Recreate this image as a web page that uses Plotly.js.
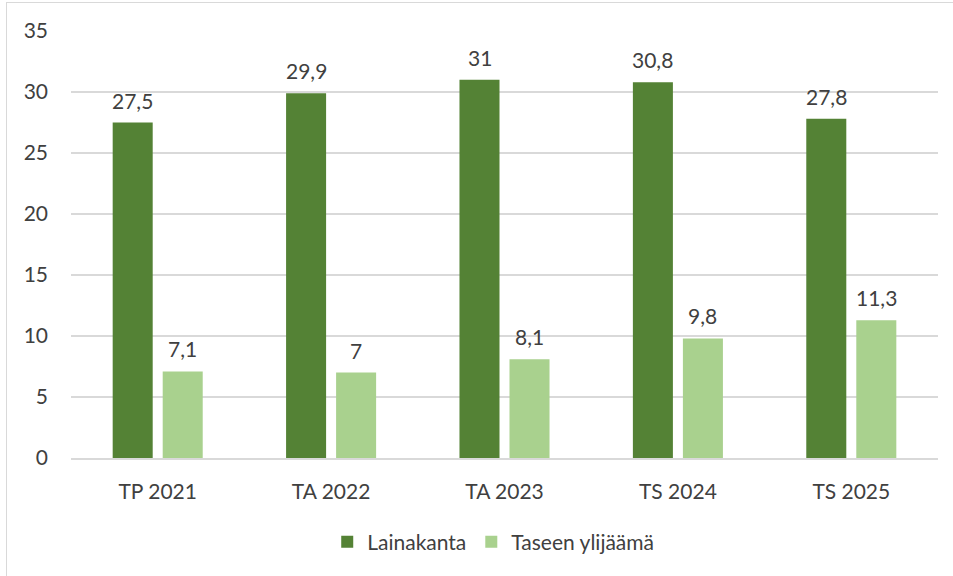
<!DOCTYPE html>
<html>
<head>
<meta charset="utf-8">
<script src="https://cdn.plot.ly/plotly-3.0.1.min.js"></script>
<style>
html,body{margin:0;padding:0;background:#fff;}
#frame{position:absolute;left:6px;top:2px;width:960px;height:600px;border-left:1.5px solid #d9d9d9;border-top:1.5px solid #d9d9d9;pointer-events:none;}
#chart{width:953px;height:576px;}
</style>
</head>
<body>
<div id="chart"></div>
<div id="frame"></div>
<script>
const categories = ["TP 2021", "TA 2022", "TA 2023", "TS 2024", "TS 2025"];
const lainakanta = [27.5, 29.9, 31, 30.8, 27.8];
const taseenYlijaama = [7.1, 7, 8.1, 9.8, 11.3];
const seriesNames = ["Lainakanta", "Taseen ylijäämä"];

const fmt = v => String(v).replace('.', ',');
const font = "Lato";
const txtColor = "#404040";
const fs = 21;

const traces = [
  {type:'bar', name:seriesNames[0], x:categories, y:lainakanta, marker:{color:'#548235'}, hoverinfo:'none'},
  {type:'bar', name:seriesNames[1], x:categories, y:taseenYlijaama, marker:{color:'#A9D18E'}, hoverinfo:'none'}
];

const off = 0.1442;
const annotations = [];
[lainakanta, taseenYlijaama].forEach((arr, s) => {
  arr.forEach((v, i) => {
    annotations.push({x: i + (s === 0 ? -off : off), y: v, xref:'x', yref:'y', text: fmt(v),
      showarrow:false, yanchor:'bottom', xanchor:'center', yshift:8,
      font:{size:fs, color:txtColor, family:font}});
  });
});

const layout = {
  width:953, height:576,
  margin:{l:71, r:15, t:31, b:118},
  paper_bgcolor:'#fff', plot_bgcolor:'#fff',
  font:{family:font, size:fs, color:txtColor},
  barmode:'group', bargap:0.423, bargroupgap:0.2,
  xaxis:{showgrid:false, showline:true, linecolor:'#d9d9d9', linewidth:1.5, ticks:'', ticklabelstandoff:14,
         tickfont:{size:fs, color:txtColor, family:font}},
  yaxis:{range:[0,35], dtick:5, tick0:0, showgrid:true, gridcolor:'#d9d9d9', gridwidth:1.5,
         zeroline:false, showline:false, ticks:'', ticklabelstandoff:22, tickfont:{size:fs, color:txtColor, family:font}},
  showlegend:true,
  legend:{orientation:'h', x:0.487, xanchor:'center', y:-0.197, yanchor:'middle',
          font:{size:fs, color:txtColor, family:font}, itemwidth:30, tracegroupgap:0},
  annotations: annotations
};

Plotly.newPlot('chart', traces, layout, {displayModeBar:false, staticPlot:true});
</script>
</body>
</html>
